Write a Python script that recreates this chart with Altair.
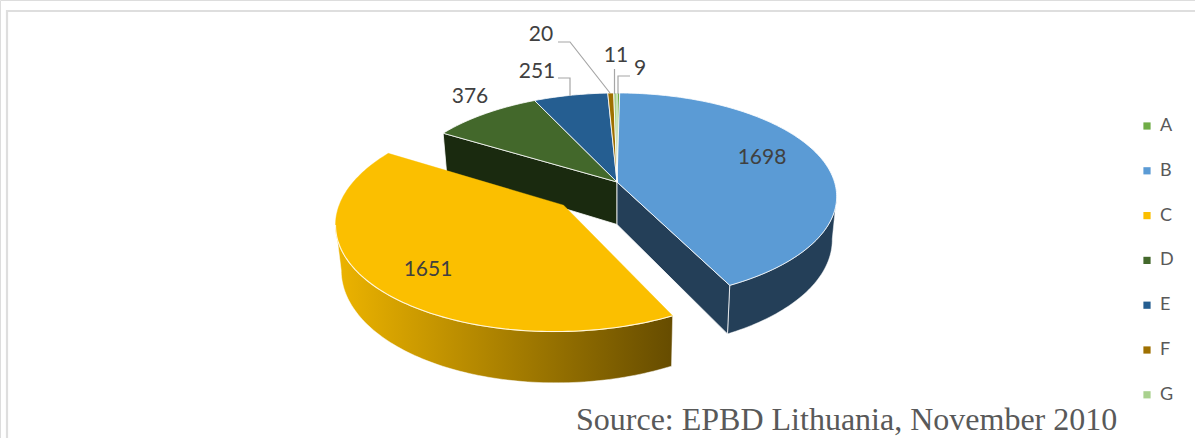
import math
import altair as alt
import pandas as pd

# Energy performance classes and certificate counts
categories = ["A", "B", "C", "D", "E", "F", "G"]
counts = [9, 1698, 1651, 376, 251, 20, 11]
top_colors = ["#70AD47", "#5B9BD5", "#FBBF00", "#43682B", "#255E91", "#9E7000", "#A9D18E"]

W, H = 1195, 438
# Perspective pie geometry
CX, CY = 617, 182
RX, RY, PERSP = 217.5, 101.5, 0.14
DEPTH, BASE_SHRINK = 42.5, 0.98
EXPLODE = {"C": 0.325}


def project(px, py, lower=False):
    w = 1 - PERSP * py
    x = CX + RX * px / w
    y = CY + RY * py / w
    if lower:
        x = CX + (x - CX) * BASE_SHRINK
        y += DEPTH / w
    return x, y


def slices():
    total = sum(counts)
    start = 0.0
    for cat, n in zip(categories, counts):
        end = start + n / total * 2 * math.pi
        yield cat, start, end
        start = end


spans = {c: (a, b) for c, a, b in slices()}


def arc(cat, a, b, lower=False):
    mid = sum(spans[cat]) / 2
    e = EXPLODE.get(cat, 0)
    ox, oy = e * math.sin(mid), -e * math.cos(mid)
    steps = max(2, int((b - a) / 0.02))
    return [
        project(ox + math.sin(a + (b - a) * i / steps), oy - math.cos(a + (b - a) * i / steps), lower)
        for i in range(steps + 1)
    ]


def hub(cat, lower=False):
    mid = sum(spans[cat]) / 2
    e = EXPLODE.get(cat, 0)
    return project(e * math.sin(mid), -e * math.cos(mid), lower)


X = alt.X("x:Q", scale=alt.Scale(domain=[0, W], range=[0, W]), axis=None)
Y = alt.Y("y:Q", scale=alt.Scale(domain=[0, H], range=[0, H]), axis=None)


def path_frame(points):
    return pd.DataFrame({"x": [p[0] for p in points], "y": [p[1] for p in points], "i": range(len(points))})


def shape(points, fill, stroke="white", sw=0.8):
    closed = list(points) + [points[0]]
    return (
        alt.Chart(path_frame(closed))
        .mark_line(fill=fill, stroke=stroke, strokeWidth=sw, interpolate="linear", strokeJoin="round")
        .encode(x=X, y=Y, order="i:Q")
    )


def top_face(cat, color):
    a, b = spans[cat]
    return shape([hub(cat)] + arc(cat, a, b), color)


def rim(cat, a, b, fill, pick):
    """Outer wall: upper edge and base, each cut at its own silhouette point."""
    upper = arc(cat, a, b)
    lower = arc(cat, a, b, True)
    iu = upper.index(pick(upper, key=lambda p: p[0]))
    il = lower.index(pick(lower, key=lambda p: p[0]))
    if pick is max:
        return shape(upper[iu:] + lower[il:][::-1], fill, sw=0.5)
    return shape(upper[: iu + 1] + lower[: il + 1][::-1], fill, sw=0.5)


layers = []

# Frame lines along the top and left of the chart area
frame = pd.DataFrame({"x": [7, 7, W], "y": [H, 11, 11], "i": [0, 1, 2]})
layers.append(alt.Chart(frame).mark_line(color="#DEDEDE", strokeWidth=2.2).encode(x=X, y=Y, order="i:Q"))

# Extruded sides that stay visible behind the tops
d0 = spans["D"][0]
d_top = arc("D", d0, d0 + 1e-6)[0]
d_low = arc("D", d0, d0 + 1e-6, True)[0]
layers.append(shape([hub("D"), hub("D", True), d_low, d_top], "#1A2A0F"))
b0, b1 = spans["B"]
b_top = arc("B", b1 - 1e-6, b1)[-1]
b_low = arc("B", b1 - 1e-6, b1, True)[-1]
layers.append(rim("B", b0, b1, "#243F58", max))
layers.append(shape([hub("B"), hub("B", True), b_low, b_top], "#243F58"))

# Top faces, exploded slice last
for cat, color in zip(categories, top_colors):
    if cat != "C":
        layers.append(top_face(cat, color))

c0, c1 = spans["C"]
c_gradient = alt.LinearGradient(
    gradient="linear", x1=0, x2=1, y1=0, y2=0,
    stops=[
        alt.GradientStop(color="#EDB400", offset=0),
        alt.GradientStop(color="#664C00", offset=1),
    ],
)
layers.append(rim("C", c0, c1, c_gradient, min))
layers.append(shape([hub("C")] + arc("C", c0, c1), "#FBBF00", stroke="#FBBF00", sw=0.4))

# Pale highlight where the exploded top meets its wall
c_edge = arc("C", c0, c1)
c_left = c_edge.index(min(c_edge, key=lambda p: p[0]))
layers.append(
    alt.Chart(path_frame(c_edge[: c_left + 1])).mark_line(color="#FFF6DC", strokeWidth=1.1)
    .encode(x=X, y=Y, order="i:Q")
)

# Leader lines from the small slices to their labels
leaders = pd.DataFrame({
    "g": ["F", "F", "F", "E", "E", "E", "G", "G", "A", "A", "A"],
    "x": [558, 570, 610, 558, 570, 570, 614.5, 614.5, 630, 618, 618],
    "y": [42, 42, 93, 78, 78, 96, 69, 94, 76, 76, 94],
    "i": range(11),
})
layers.append(
    alt.Chart(leaders).mark_line(color="#A6A6A6", strokeWidth=1.2)
    .encode(x=X, y=Y, detail="g:N", order="i:Q")
)

# Value labels
label_x = [640, 762, 428, 470, 537, 541, 616]
label_y = [69, 158, 270, 97, 72, 35, 56]
labels = pd.DataFrame({"x": label_x, "y": label_y, "t": [str(c) for c in counts]})
layers.append(
    alt.Chart(labels).mark_text(font="Lato", fontSize=21, color="#404040")
    .encode(x=X, y=Y, text="t:N")
)

# Source note
note = pd.DataFrame({"x": [576], "y": [420], "t": ["Source: EPBD Lithuania, November 2010"]})
layers.append(
    alt.Chart(note).mark_text(font="Liberation Serif", fontSize=32, color="#595959", align="left")
    .encode(x=X, y=Y, text="t:N")
)

# Legend carried by an invisible point layer
legend_df = pd.DataFrame({"cat": categories, "x": [0] * 7, "y": [0] * 7})
layers.append(
    alt.Chart(legend_df).mark_square(size=0, opacity=1).encode(
        x=X, y=Y,
        color=alt.Color(
            "cat:N",
            scale=alt.Scale(domain=categories, range=top_colors),
            legend=alt.Legend(
                title=None, orient="none", legendX=1138, legendY=117, rowPadding=26.8,
                symbolType="square", symbolSize=52, symbolOpacity=1, symbolStrokeWidth=0,
                labelFont="Lato", labelFontSize=18, labelColor="#595959", labelOffset=4,
            ),
        ),
    )
)

chart = (
    alt.layer(*layers)
    .properties(width=W, height=H, padding=0, autosize=alt.AutoSizeParams(type="none"))
    .configure_view(stroke=None)
    .configure(background="white")
)
chart.save("out.html", embed_options={"renderer": "svg", "actions": False})
